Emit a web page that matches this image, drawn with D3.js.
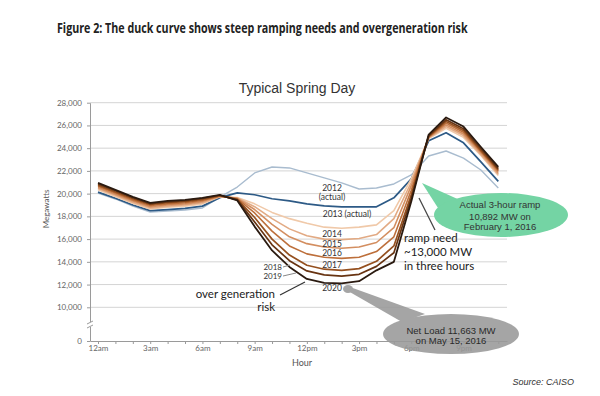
<!DOCTYPE html>
<html><head><meta charset="utf-8">
<script src="https://cdn.jsdelivr.net/npm/d3@7"></script>
<style>body{margin:0;background:#fff}svg{display:block}</style>
</head><body><svg id="c" width="600" height="396"></svg>
<script>
// ---- data ----
const hours = [0,1,2,3,4,5,6,7,8,9,10,11,12,13,14,15,16,17,18,19,20,21,22,23];
const xTickHours = [0,3,6,9,12,15,18,21];
const xTickLabels = ["12am","3am","6am","9am","12pm","3pm","6pm","9pm"];
const yTicks = [0,10000,12000,14000,16000,18000,20000,22000,24000,26000,28000];
const seriesNames = ["2012","2013","2014","2015","2016","2017","2018","2019","2020"];
const s2012 = [20050,19530,18910,18380,18470,18560,18740,19700,20580,21820,22340,22260,21820,21380,20940,20410,20500,20850,21640,23310,23750,23130,22080,20500];
const s2013 = [20130,19600,19000,18500,18600,18700,18900,19650,20070,19900,19550,19360,19100,18920,18840,18840,18840,19630,21300,24650,25350,24470,22800,21080];
const s2014 = [20350,19750,19150,18650,18800,18900,19100,19720,19650,19100,18350,17800,17400,17050,16950,17050,17250,18500,21300,24850,25750,24950,23350,21600];
const s2015 = [20450,19850,19250,18750,18900,19000,19200,19740,19620,18850,17800,16900,16300,16000,15950,16050,16400,17800,21000,24900,25900,25100,23450,21700];
const s2016 = [20550,19950,19350,18850,19000,19100,19300,19770,19580,18600,17300,16200,15600,15300,15200,15300,15700,17000,20700,24950,26050,25250,23600,21850];
const s2017 = [20650,20050,19450,18950,19100,19200,19400,19800,19550,18300,16700,15400,14700,14400,14300,14400,14900,16200,20300,25000,26200,25400,23700,22000];
const s2018 = [20750,20150,19550,19050,19200,19300,19500,19830,19500,17900,16000,14600,13700,13350,13250,13400,14050,15400,19900,25050,26350,25550,23800,22100];
const s2019 = [20850,20250,19650,19120,19280,19380,19580,19860,19450,17500,15500,14100,13200,12850,12750,12900,13600,14800,19600,25100,26500,25700,23950,22200];
const s2020 = [20950,20330,19720,19190,19360,19450,19630,19890,19400,17100,15000,13550,12500,12150,12100,12300,13250,14000,19300,25200,26700,25900,24100,22350];
const seriesValues = [s2012,s2013,s2014,s2015,s2016,s2017,s2018,s2019,s2020];
const seriesColors = ["#a9bccf","#2d5a86","#f0c9a9","#e2aa84","#d38e60","#bd6f3b","#95501f","#683412","#2a1a10"];
const seriesWidths = [1.4,1.7,1.6,1.6,1.6,1.6,1.7,1.7,1.8];

// ---- chart ----
const svg = d3.select("#c");
const x = d3.scaleLinear().domain([-0.46, 23.5]).range([90, 507]);
const y = d3.scaleLinear().domain([0, 10000, 28000]).range([341, 307.3, 102.7]);
const FONT = "Lato, 'Open Sans', sans-serif";

const title = svg.append("text").attr("x", 0).attr("y", 0)
  .attr("font-family", "'Open Sans', Lato, sans-serif").attr("font-weight", "bold").attr("font-size", 15)
  .attr("fill", "#222")
  .text("Figure 2: The duck curve shows steep ramping needs and overgeneration risk");
const tw = title.node().getComputedTextLength();
title.attr("transform", `translate(57,33) scale(${411 / tw},1)`);

svg.append("text").attr("x", 297).attr("y", 93).attr("text-anchor", "middle")
  .attr("font-family", "'Liberation Sans', Arial, sans-serif").attr("font-size", 14).attr("fill", "#333")
  .text("Typical Spring Day");

// grid
svg.append("g").selectAll("line").data(yTicks.filter(v => v >= 10000)).join("line")
  .attr("x1", 90).attr("x2", 507).attr("y1", d => y(d)).attr("y2", d => y(d))
  .attr("stroke", "#d4d4d4").attr("stroke-width", 1);

// axes
const yAxis = svg.append("g").attr("transform", "translate(90,0)")
  .call(d3.axisLeft(y).tickValues(yTicks).tickFormat(d3.format(",")).tickSize(3).tickSizeOuter(0).tickPadding(5));
const xAxis = svg.append("g").attr("transform", "translate(0,341)")
  .call(d3.axisBottom(x).tickValues(hours).tickSize(3).tickSizeOuter(0).tickPadding(1)
    .tickFormat(h => { const i = xTickHours.indexOf(h); return i >= 0 ? xTickLabels[i] : ""; }));
[yAxis, xAxis].forEach(g => {
  g.selectAll("path,line").attr("stroke", "#9a9a9a");
  g.selectAll("text").attr("font-family", FONT).attr("font-size", 8).attr("fill", "#666");
});
// axis break
svg.append("rect").attr("x", 86).attr("y", 322).attr("width", 8).attr("height", 5).attr("fill", "#fff");
svg.append("path").attr("d", "M87,324 L93,321 M87,328 L93,325").attr("stroke", "#9a9a9a").attr("fill", "none");

svg.append("text").attr("transform", "translate(49,209) rotate(-90)").attr("text-anchor", "middle")
  .attr("font-family", FONT).attr("font-size", 8).attr("fill", "#555").text("Megawatts");
svg.append("text").attr("x", 302).attr("y", 366).attr("text-anchor", "middle")
  .attr("font-family", FONT).attr("font-size", 9).attr("fill", "#555").text("Hour");

// lines
const line = d3.line().x((d, i) => x(hours[i])).y(d => y(d));
svg.append("g").selectAll("path").data(seriesValues).join("path")
  .attr("d", d => line(d)).attr("fill", "none")
  .attr("stroke", (d, i) => seriesColors[i]).attr("stroke-width", (d, i) => seriesWidths[i])
  .attr("stroke-linejoin", "round");

// labels
const lab = (t, xx, yy, size, anchor, color) => svg.append("text").attr("x", xx).attr("y", yy)
  .attr("text-anchor", anchor || "middle").attr("font-family", FONT).attr("font-size", size)
  .attr("fill", color || "#333").text(t);
lab("2012", 332, 191, 8.5);
lab("(actual)", 332, 200, 8.5);
lab("2013 (actual)", 347, 217, 8.5);
lab("2014", 332, 237, 8.5);
lab("2015", 332, 247, 8.5);
lab("2016", 332, 256, 8.5);
lab("2017", 332, 268, 8.5);
lab("2018", 282, 270, 8, "end");
lab("2019", 282, 279, 8, "end");
lab("2020", 332, 291, 8.5);
svg.append("path").attr("d", "M283,267 L290,265 M283,276 L296,273").attr("stroke", "#888").attr("stroke-width", 1);

lab("over generation", 275, 298, 11.5, "end", "#222");
lab("risk", 275, 311, 11.5, "end", "#222");
svg.append("line").attr("x1", 280).attr("y1", 295).attr("x2", 305).attr("y2", 282).attr("stroke", "#333").attr("stroke-width", 1.2);

lab("ramp need", 404, 242, 11.5, "start", "#222");
lab("~13,000 MW", 404, 256, 11.5, "start", "#222");
lab("in three hours", 404, 270, 11.5, "start", "#222");
svg.append("line").attr("x1", 419).attr("y1", 198).attr("x2", 435).attr("y2", 230).attr("stroke", "#444").attr("stroke-width", 1.2);

// green callout
const gc = svg.append("g");
gc.append("path").attr("d", "M422,183 L462,201 L438,208 Z").attr("fill", "#74d4a4");
gc.append("ellipse").attr("cx", 501).attr("cy", 215).attr("rx", 67).attr("ry", 22).attr("fill", "#74d4a4");
[["Actual 3-hour ramp", 208], ["10,892 MW on", 219.5], ["February 1, 2016", 230]].forEach(([t, yy]) =>
  gc.append("text").attr("x", 500).attr("y", yy).attr("text-anchor", "middle")
    .attr("font-family", "'Liberation Sans', Arial, sans-serif").attr("font-size", 9.5).attr("fill", "#333").text(t));

// gray callout
const cc = svg.append("g").attr("opacity", 0.88);
cc.append("ellipse").attr("cx", 348).attr("cy", 289).attr("rx", 5).attr("ry", 4).attr("fill", "#999");
cc.append("path").attr("d", "M350,287 L425,314 L402,322 L348,291 Z").attr("fill", "#999");
cc.append("ellipse").attr("cx", 451).attr("cy", 334).attr("rx", 68).attr("ry", 20).attr("fill", "#999");
[["Net Load 11,663 MW", 333.5], ["on May 15, 2016", 344]].forEach(([t, yy]) =>
  svg.append("text").attr("x", 451).attr("y", yy).attr("text-anchor", "middle")
    .attr("font-family", "'Liberation Sans', Arial, sans-serif").attr("font-size", 9.5).attr("fill", "#2a2a2a").text(t));

svg.append("text").attr("x", 574).attr("y", 385).attr("text-anchor", "end")
  .attr("font-family", "'Liberation Sans', Arial, sans-serif").attr("font-style", "italic").attr("font-size", 9)
  .attr("fill", "#333").text("Source: CAISO");
</script></body></html>
